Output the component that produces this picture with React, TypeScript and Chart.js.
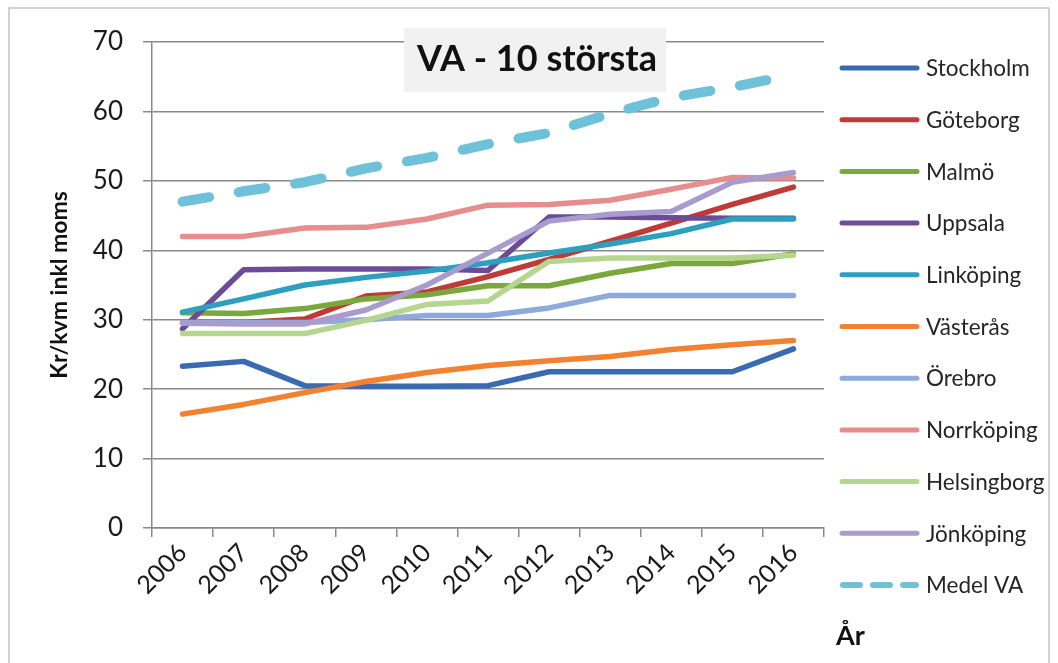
import { useEffect, useRef } from "react";
import { Chart, registerables } from "chart.js";

Chart.register(...registerables);

const chartTitle = "VA - 10 största";
const yAxisTitle = "Kr/kvm inkl moms";
const xAxisTitle = "År";

const years = ["2006", "2007", "2008", "2009", "2010", "2011", "2012", "2013", "2014", "2015", "2016"];
const yTicks = [0, 10, 20, 30, 40, 50, 60, 70];

const stockholm = [23.3, 24.0, 20.5, 20.4, 20.4, 20.5, 22.5, 22.5, 22.5, 22.5, 25.8];
const goteborg = [29.6, 29.6, 30.1, 33.4, 34.0, 36.2, 38.7, 41.3, 43.9, 46.6, 49.1];
const malmo = [31.0, 30.9, 31.6, 33.0, 33.6, 34.9, 34.9, 36.7, 38.1, 38.1, 39.5];
const uppsala = [28.7, 37.2, 37.3, 37.3, 37.3, 37.1, 44.8, 44.8, 44.7, 44.6, 44.6];
const linkoping = [31.1, 33.0, 35.0, 36.1, 37.0, 38.2, 39.6, 40.9, 42.4, 44.5, 44.5];
const vasteras = [16.4, 17.8, 19.5, 21.1, 22.4, 23.4, 24.1, 24.7, 25.7, 26.4, 27.0];
const orebro = [29.6, 29.6, 29.6, 30.0, 30.6, 30.6, 31.7, 33.5, 33.5, 33.5, 33.5];
const norrkoping = [42.0, 42.0, 43.2, 43.3, 44.5, 46.5, 46.6, 47.2, 48.8, 50.5, 50.4];
const helsingborg = [28.0, 28.0, 28.0, 29.9, 32.2, 32.7, 38.4, 38.9, 38.9, 38.9, 39.3];
const jonkoping = [29.5, 29.4, 29.4, 31.4, 35.0, 39.6, 44.2, 45.2, 45.6, 49.8, 51.2];
const medelVA = [47.0, 48.5, 49.8, 51.8, 53.3, 55.3, 56.9, 59.7, 62.0, 63.5, 65.3];

const seriesNames = [
  "Stockholm", "Göteborg", "Malmö", "Uppsala", "Linköping", "Västerås",
  "Örebro", "Norrköping", "Helsingborg", "Jönköping", "Medel VA",
];
const seriesValues = [
  stockholm, goteborg, malmo, uppsala, linkoping, vasteras,
  orebro, norrkoping, helsingborg, jonkoping, medelVA,
];
const seriesColors = [
  "#3A6AB0", "#BE3B37", "#7AA83C", "#6C4C96", "#2E9FBF", "#F28232",
  "#8EAADB", "#E58E8D", "#B6D58E", "#A99BCD", "#6EC1D8",
];

const FONT = "Lato, 'Open Sans', sans-serif";

const backgroundPlugin = {
  id: "bgBorder",
  beforeDraw(chart: any) {
    const { ctx, width, height } = chart;
    ctx.save();
    ctx.fillStyle = "#ffffff";
    ctx.fillRect(0, 0, width, height);
    ctx.strokeStyle = "#c4c4c4";
    ctx.lineWidth = 1.5;
    ctx.strokeRect(9, 8, width - 18, height + 10);
    ctx.restore();
  },
};

const decorPlugin = {
  id: "decor",
  afterDraw(chart: any) {
    const { ctx } = chart;
    ctx.save();
    // title box
    ctx.fillStyle = "#f1f1f1";
    ctx.fillRect(404, 28, 262, 64);
    ctx.fillStyle = "#111111";
    ctx.font = `bold 36px ${FONT}`;
    ctx.textAlign = "center";
    ctx.textBaseline = "middle";
    ctx.fillText(chartTitle, 537, 59);

    // legend
    const ds = chart.data.datasets;
    ctx.textAlign = "left";
    ctx.font = `22.5px ${FONT}`;
    ds.forEach((d: any, i: number) => {
      const y = 68 + i * 51.7;
      ctx.beginPath();
      ctx.strokeStyle = d.borderColor;
      ctx.lineCap = "round";
      if (d.borderDash && d.borderDash.length) {
        ctx.lineWidth = 6;
        ctx.setLineDash([17, 13]);
        ctx.moveTo(843, y);
        ctx.lineTo(916, y);
      } else {
        ctx.lineWidth = 5;
        ctx.setLineDash([]);
        ctx.moveTo(842, y);
        ctx.lineTo(917, y);
      }
      ctx.stroke();
      ctx.setLineDash([]);
      ctx.fillStyle = "#262626";
      ctx.fillText(d.label, 926, y + 1);
    });

    // x axis title
    ctx.font = `bold 27px ${FONT}`;
    ctx.fillStyle = "#111111";
    ctx.textBaseline = "alphabetic";
    ctx.fillText(xAxisTitle, 836, 645);
    ctx.restore();
  },
};

export default function App() {
  const ref = useRef<HTMLCanvasElement>(null);
  useEffect(() => {
    document.body.style.margin = "0";
    document.body.style.overflow = "hidden";
    const datasets = seriesNames.map((name, i) => {
      const dashed = i === seriesNames.length - 1;
      return {
        label: name,
        data: seriesValues[i],
        borderColor: seriesColors[i],
        backgroundColor: seriesColors[i],
        borderWidth: dashed ? 10 : 5.5,
        borderDash: dashed ? [27, 30] : [],
        borderCapStyle: "round",
        borderJoinStyle: "round",
        pointRadius: 0,
        pointHoverRadius: 0,
        tension: 0,
        fill: false,
        order: seriesNames.length - i,
      };
    });
    const chart = new Chart(ref.current!, {
      type: "line",
      data: { labels: years, datasets: datasets as any },
      options: {
        animation: false,
        responsive: false,
        events: [],
        layout: { padding: { left: 0, right: 234, top: 42, bottom: 0 } },
        plugins: {
          legend: { display: false },
          tooltip: { enabled: false },
          title: { display: false },
        },
        scales: {
          x: {
            type: "category",
            offset: true,
            grid: {
              offset: true,
              drawOnChartArea: false,
              drawTicks: true,
              tickLength: 9,
              color: "#898989",
              lineWidth: 1.5,
            },
            border: { display: true, color: "#898989", width: 1.5 },
            ticks: {
              autoSkip: false,
              maxRotation: 45,
              minRotation: 45,
              padding: 1,
              color: "#1a1a1a",
              font: { family: FONT, size: 25 },
            },
            afterFit(scale: any) {
              scale.height = 135;
            },
          },
          y: {
            min: 0,
            max: 70,
            afterBuildTicks(scale: any) {
              scale.ticks = yTicks.map((v) => ({ value: v }));
            },
            grid: {
              drawOnChartArea: true,
              drawTicks: true,
              tickLength: 9,
              color: "#898989",
              lineWidth: 1.5,
            },
            border: { display: true, color: "#898989", width: 1.5 },
            ticks: {
              padding: 20,
              color: "#1a1a1a",
              font: { family: FONT, size: 26 },
            },
            title: {
              display: true,
              text: yAxisTitle,
              color: "#111111",
              font: { family: FONT, size: 23, weight: "bold" },
              padding: { top: 46, bottom: 0 },
            },
            afterFit(scale: any) {
              scale.width = 152;
            },
          },
        },
      },
      plugins: [backgroundPlugin, decorPlugin],
    } as any);
    return () => chart.destroy();
  }, []);
  return (
    <div style={{ width: 1058, height: 663 }}>
      <canvas ref={ref} width={1058} height={663} style={{ display: "block" }} />
    </div>
  );
}
